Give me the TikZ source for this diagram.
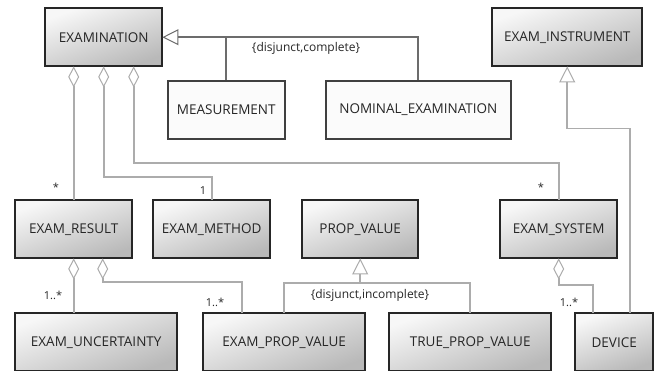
\documentclass[tikz,border=0pt]{standalone}
\usepackage{fontspec}
\setmainfont{Open Sans}
\usetikzlibrary{arrows.meta}
\begin{document}
\begin{tikzpicture}[x=1pt,y=-1pt,
  cls/.style={anchor=north west, inner sep=0pt,
    font=\fontsize{13.5}{16}\selectfont, text=black!85,
    top color=gray!6, bottom color=gray!55, shading angle=20,
    postaction={draw=black!85, line width=1.6pt}},
  plain/.style={anchor=north west, inner sep=0pt,
    font=\fontsize{13.5}{16}\selectfont, text=black!85,
    fill=gray!3, draw=black!75, line width=1.6pt},
  conn/.style={draw=gray!65, line width=1.8pt},
  genl/.style={draw=gray!85!black, line width=1.8pt},
  agg/.style={conn, {Diamond[open, fill=white, length=21pt, width=11pt, line width=1pt]}-},
  gen/.style={-{Triangle[open, fill=white, length=16pt, width=16pt, line width=1pt]}},
  lbl/.style={inner sep=0pt, font=\fontsize{12}{14}\selectfont, text=black!85},
  mult/.style={inner sep=0pt, font=\fontsize{11}{13}\selectfont, text=black!85}
]
\useasboundingbox (0,0) rectangle (655,370);
\node[cls, minimum width=117pt, minimum height=58pt] (exam) at (45,8) {EXAMINATION};
\node[plain, minimum width=117pt, minimum height=58pt] (meas) at (167,80) {MEASUREMENT};
\node[plain, minimum width=185pt, minimum height=58pt] (nom) at (325,80) {NOMINAL\_EXAMINATION};
\node[cls, minimum width=150pt, minimum height=58pt] (inst) at (492,8) {EXAM\_INSTRUMENT};
\node[cls, minimum width=117pt, minimum height=58pt] (res) at (15,200) {EXAM\_RESULT};
\node[cls, minimum width=117pt, minimum height=58pt] (meth) at (153,200) {EXAM\_METHOD};
\node[cls, minimum width=116pt, minimum height=58pt] (pv) at (302,200) {PROP\_VALUE};
\node[cls, minimum width=117pt, minimum height=58pt] (sys) at (500,200) {EXAM\_SYSTEM};
\node[cls, minimum width=162pt, minimum height=58pt] (unc) at (15,313) {EXAM\_UNCERTAINTY};
\node[cls, minimum width=162pt, minimum height=58pt] (epv) at (203,313) {EXAM\_PROP\_VALUE};
\node[cls, minimum width=162pt, minimum height=58pt] (tpv) at (389,313) {TRUE\_PROP\_VALUE};
\node[cls, minimum width=78pt, minimum height=58pt] (dev) at (575,313) {DEVICE};

% generalization EXAMINATION
\draw[genl, gen] (nom.north) |- (exam.east);
\draw[genl] (meas.north) -- (meas.north |- exam.east);
\node[lbl] (gl1) at (306,48) {\{disjunct,complete\}};

% generalization EXAM_INSTRUMENT
\draw[conn, gen] ([xshift=16pt]dev.north) |- ([yshift=-62pt]inst.south) -- (inst.south);

% aggregations from EXAMINATION
\draw[agg] ([xshift=-30pt]exam.south) -- (res.north);
\draw[agg] (exam.south) |- ([yshift=23pt]meth.north) -- (meth.north);
\draw[agg] ([xshift=30pt]exam.south) |- ([yshift=37pt]sys.north) -- (sys.north);
\node[mult] (m1) at (56,187) {*};
\node[mult] (m2) at (203,191) {1};
\node[mult] (m3) at (541,187) {*};

% aggregations from EXAM_RESULT
\draw[agg] (res.south) -- (res.south |- unc.north);
\draw[agg] ([xshift=29pt]res.south) |- ([xshift=-42pt, yshift=31pt]epv.north) -- ([xshift=-42pt]epv.north);
\node[mult] (m4) at (53,295) {1..*};
\node[mult] (m5) at (215,302) {1..*};

% generalization PROP_VALUE
\draw[conn] (epv.north) |- ([yshift=30pt]tpv.north) -- (tpv.north);
\draw[conn, gen] (pv.south |- tpv.north) ++(0,-30) coordinate (pvj) (pvj) -- (pv.south);
\node[lbl] (gl2) at (370,295) {\{disjunct,incomplete\}};

% aggregation EXAM_SYSTEM
\draw[agg] (sys.south) |- ([xshift=-21pt, yshift=28pt]dev.north) -- ([xshift=-21pt]dev.north);
\node[mult] (m6) at (569,302) {1..*};
\end{tikzpicture}
\end{document}
